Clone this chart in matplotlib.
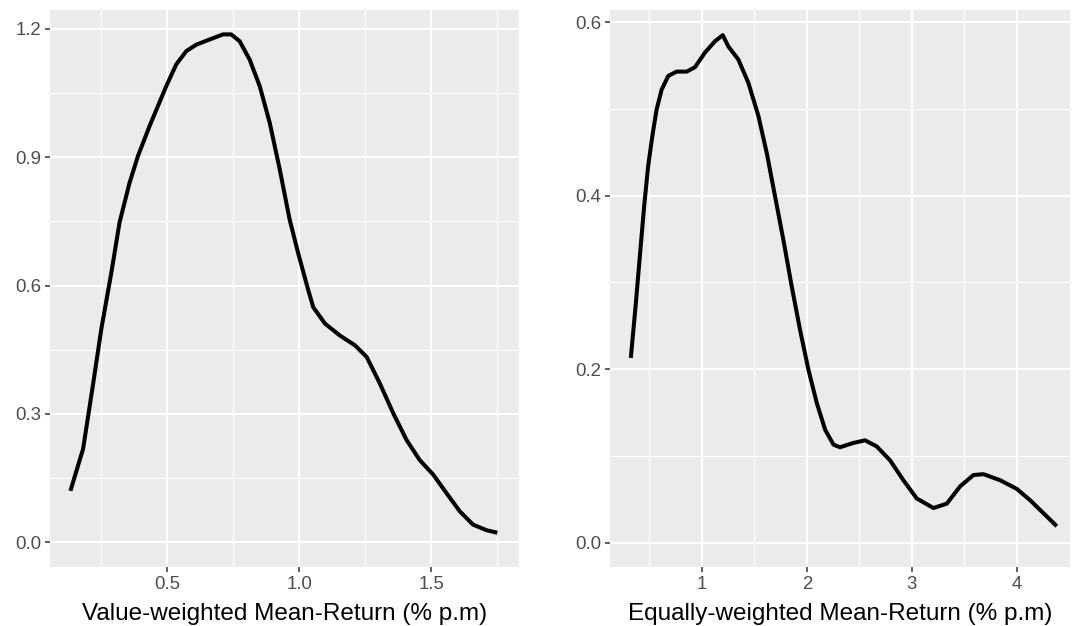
import numpy as np
import matplotlib.pyplot as plt

plt.rcParams['font.family'] = ['Liberation Sans', 'DejaVu Sans']

# value-weighted density
vw_x = [0.133, 0.181, 0.218, 0.250, 0.288, 0.319, 0.357, 0.389, 0.433, 0.496,
        0.534, 0.572, 0.610, 0.660, 0.711, 0.742, 0.774, 0.812, 0.850, 0.888,
        0.926, 0.963, 0.995, 1.033, 1.053, 1.097, 1.154, 1.211, 1.255, 1.305,
        1.356, 1.406, 1.456, 1.507, 1.557, 1.608, 1.658, 1.709, 1.750]
vw_y = [0.120, 0.218, 0.366, 0.498, 0.630, 0.747, 0.840, 0.903, 0.973, 1.066,
        1.117, 1.148, 1.163, 1.175, 1.187, 1.187, 1.171, 1.128, 1.066, 0.980,
        0.871, 0.755, 0.677, 0.591, 0.549, 0.511, 0.483, 0.460, 0.433, 0.371,
        0.301, 0.239, 0.192, 0.158, 0.115, 0.072, 0.041, 0.028, 0.022]

# equally-weighted density
ew_x = [0.325, 0.370, 0.411, 0.452, 0.490, 0.529, 0.570, 0.618, 0.681, 0.761,
        0.856, 0.935, 1.031, 1.126, 1.200, 1.253, 1.348, 1.444, 1.539, 1.619,
        1.698, 1.777, 1.857, 1.936, 2.016, 2.095, 2.175, 2.254, 2.316, 2.443,
        2.554, 2.665, 2.792, 2.919, 3.046, 3.205, 3.332, 3.459, 3.586, 3.681,
        3.840, 3.998, 4.125, 4.252, 4.379]
ew_y = [0.213, 0.272, 0.330, 0.388, 0.434, 0.468, 0.499, 0.522, 0.538, 0.543,
        0.543, 0.548, 0.565, 0.578, 0.585, 0.572, 0.557, 0.530, 0.492, 0.449,
        0.399, 0.349, 0.295, 0.245, 0.199, 0.161, 0.130, 0.113, 0.110, 0.115,
        0.118, 0.111, 0.095, 0.072, 0.051, 0.040, 0.045, 0.065, 0.078, 0.079,
        0.072, 0.062, 0.049, 0.034, 0.019]

vw_xticks = [0.5, 1.0, 1.5]
vw_xminor = [0.25, 0.75, 1.25, 1.75]
vw_yticks = [0.0, 0.3, 0.6, 0.9, 1.2]
vw_yminor = [0.15, 0.45, 0.75, 1.05]
ew_xticks = [1, 2, 3, 4]
ew_xminor = [0.5, 1.5, 2.5, 3.5, 4.5]
ew_yticks = [0.0, 0.2, 0.4, 0.6]
ew_yminor = [0.1, 0.3, 0.5]


# ggplot-like panel styling
def stylePanel(ax, xticks, xminor, yticks, yminor, xlabels, ylabels):
    ax.set_facecolor('#EBEBEB')
    for s in ax.spines.values():
        s.set_visible(False)
    ax.set_xticks(xticks)
    ax.set_xticklabels(xlabels)
    ax.set_xticks(xminor, minor=True)
    ax.set_yticks(yticks)
    ax.set_yticklabels(ylabels)
    ax.set_yticks(yminor, minor=True)
    ax.grid(which='major', color='white', linewidth=1.5)
    ax.grid(which='minor', color='white', linewidth=0.75)
    ax.set_axisbelow(True)
    ax.tick_params(which='major', length=3.5, width=1.1, color='#333333',
                   labelcolor='#4D4D4D', labelsize=13.4, pad=3)
    ax.tick_params(which='minor', length=0)


fig = plt.figure(figsize=(10.73, 6.26), dpi=100)

ax1 = fig.add_axes([50 / 1073, 59 / 626, 469 / 1073, 557 / 626])
ax1.plot(vw_x, vw_y, color='black', linewidth=2.9, solid_joinstyle='round',
         solid_capstyle='butt')
ax1.set_xlim(0.0557, 1.832)
ax1.set_ylim(-0.058, 1.244)
stylePanel(ax1, vw_xticks, vw_xminor, vw_yticks, vw_yminor,
           ['0.5', '1.0', '1.5'], ['0.0', '0.3', '0.6', '0.9', '1.2'])
ax1.set_xlabel('Value-weighted Mean-Return (% p.m)', fontsize=17.5, color='black', labelpad=7)

ax2 = fig.add_axes([610 / 1073, 59 / 626, 461 / 1073, 557 / 626])
ax2.plot(ew_x, ew_y, color='black', linewidth=2.9, solid_joinstyle='round',
         solid_capstyle='butt')
ax2.set_xlim(0.127, 4.514)
ax2.set_ylim(-0.028, 0.614)
stylePanel(ax2, ew_xticks, ew_xminor, ew_yticks, ew_yminor,
           ['1', '2', '3', '4'], ['0.0', '0.2', '0.4', '0.6'])
ax2.set_xlabel('Equally-weighted Mean-Return (% p.m)', fontsize=17.5, color='black', labelpad=7)

fig.savefig('out.png', dpi=100)
